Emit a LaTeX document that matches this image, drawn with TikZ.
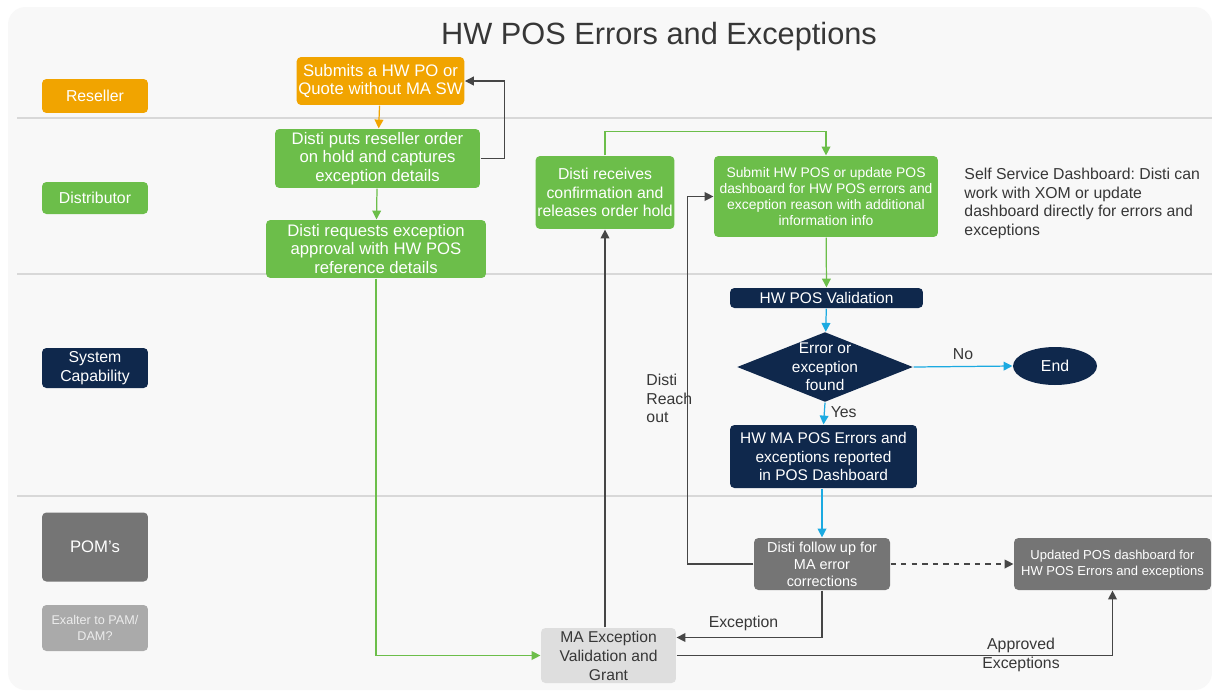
\documentclass[tikz,border=0pt]{standalone}
\usepackage{fontspec}
\setmainfont{Liberation Sans}
\usepackage{tikz}
\usetikzlibrary{shapes.geometric,arrows.meta}
\frenchspacing

\definecolor{resorange}{RGB}{241,164,0}
\definecolor{distgreen}{RGB}{108,190,74}
\definecolor{sysnavy}{RGB}{15,40,76}
\definecolor{pomgray}{RGB}{117,117,117}
\definecolor{exgray}{RGB}{170,170,170}
\definecolor{grantgray}{RGB}{222,222,222}
\definecolor{flowcyan}{RGB}{27,170,225}
\definecolor{darkline}{RGB}{70,70,70}
\definecolor{cardbg}{RGB}{248,248,248}
\definecolor{lanegray}{RGB}{216,216,216}
\definecolor{textgray}{RGB}{55,55,55}

\begin{document}
\begin{tikzpicture}[x=0.02cm,y=-0.02cm,line width=0.7pt,>={Triangle[length=5pt,width=5pt]}]
    \tikzstyle{box}=[rectangle,rounded corners=2.5pt,inner sep=1pt,align=center,text=white]
    \tikzstyle{lane}=[box,minimum width=2.12cm,font={\fontsize{9}{10.5}\selectfont}]
    \tikzstyle{reseller}=[box,fill=resorange,font={\fontsize{9.5}{10.5}\selectfont}]
    \tikzstyle{disti}=[box,fill=distgreen,font={\fontsize{9.5}{10.5}\selectfont}]
    \tikzstyle{system}=[box,fill=sysnavy,font={\fontsize{8.8}{10.5}\selectfont}]
    \tikzstyle{pom}=[box,fill=pomgray,font={\fontsize{8.2}{9.6}\selectfont}]
    \tikzstyle{annot}=[text=textgray,align=center,font={\fontsize{9}{10.5}\selectfont}]
    \tikzstyle{orangeflow}=[->,draw=resorange]
    \tikzstyle{greenflow}=[->,draw=distgreen]
    \tikzstyle{cyanflow}=[->,draw=flowcyan]
    \tikzstyle{darkflow}=[->,draw=darkline]

    \useasboundingbox (0,0) rectangle (1212,693);
    % Draw the card and the swim lanes
    \fill[white] (0,0) rectangle (1212,693);
    \fill[cardbg,rounded corners=10pt] (8,7) rectangle (1212,690);
    \foreach \y in {118,274,496}
        \draw[lanegray,line width=0.8pt] (17,\y) -- (1212,\y);

    \node[text=textgray,font={\fontsize{17.5}{20}\selectfont}] (title) at (659,37) {HW POS Errors and Exceptions};

    % Lane labels
    \node[lane,fill=resorange,minimum height=0.68cm] (L-res) at (95,96) {Reseller};
    \node[lane,fill=distgreen,minimum height=0.64cm] (L-dist) at (95,198) {Distributor};
    \node[lane,fill=sysnavy,minimum height=0.8cm] (L-sys) at (95,368) {System\\Capability};
    \node[lane,fill=pomgray,minimum height=1.38cm,font={\fontsize{9.5}{11}\selectfont}] (L-pom) at (95,547) {POM's};
    \node[lane,fill=exgray,minimum height=0.92cm,text={rgb,255:red,236;green,236;blue,236},font={\fontsize{7.2}{9}\selectfont}] (L-ex) at (95,628) {Exalter to PAM/\\DAM?};

    % Reseller and distributor steps
    \node[reseller,minimum width=3.3cm,minimum height=0.96cm] (R-1) at (380.5,81) {Submits a HW PO or\\Quote without MA SW};
    \node[disti,minimum width=4.1cm,minimum height=1.18cm] (D-1) at (377.5,158.5) {Disti puts reseller order\\on hold and captures\\exception details};
    \node[disti,minimum width=4.4cm,minimum height=1.16cm] (D-2) at (376,249) {Disti requests exception\\approval with HW POS\\reference details};
    \node[disti,minimum width=2.76cm,minimum height=1.46cm,font={\fontsize{9}{10.5}\selectfont}] (D-3) at (605,192.5) {Disti receives\\confirmation and\\releases order hold};
    \node[disti,minimum width=4.48cm,minimum height=1.62cm,font={\fontsize{7.9}{9}\selectfont}] (D-4) at (826,196.5) {Submit HW POS or update POS\\dashboard for HW POS errors and\\exception reason with additional\\information info};
    \node[annot,anchor=north west,align=left] (note) at (958,162) {Self Service Dashboard: Disti can\\work with XOM or update\\dashboard directly for errors and\\exceptions};

    % System steps
    \node[system,minimum width=3.86cm,minimum height=0.4cm] (S-1) at (826.5,298) {HW POS Validation};
    \node[diamond,fill=sysnavy,aspect=2.5,inner sep=0pt,minimum width=3.52cm,minimum height=1.4cm,
          label={[text=white,align=center,font={\fontsize{8.8}{10.5}\selectfont}]center:Error or\\exception\\found}] (S-2) at (825,367) {};
    \node[ellipse,fill=sysnavy,text=white,minimum width=1.68cm,minimum height=0.76cm,font={\fontsize{9}{10.5}\selectfont}] (S-end) at (1055,366) {End};
    \node[system,minimum width=3.74cm,minimum height=1.26cm] (S-3) at (823.5,456.5) {HW MA POS Errors and\\exceptions reported\\in POS Dashboard};

    % POM steps
    \node[pom,minimum width=2.72cm,minimum height=1.04cm] (P-1) at (822,564) {Disti follow up for\\MA error\\corrections};
    \node[pom,minimum width=3.94cm,minimum height=1.04cm,font={\fontsize{7.4}{9.2}\selectfont}] (P-2) at (1112.5,564) {Updated POS dashboard for\\HW POS Errors and exceptions};
    \node[box,fill=grantgray,text=textgray,minimum width=2.7cm,minimum height=1.1cm,font={\fontsize{8.9}{10.8}\selectfont}] (P-3) at (608.5,655.5) {MA Exception\\Validation and\\Grant};

    % Connectors
    \path (R-1) edge[orangeflow] (D-1);
    \path (D-1) edge[greenflow] (D-2);
    \draw[darkflow] (D-1.east) -- ++(24,0) |- (R-1.east);
    \draw[greenflow] (D-2.south) |- (P-3.west);
    \draw[greenflow] (D-3.north) -- ++(0,-24) -| (D-4.north);
    \draw[darkflow] (P-3.north -| D-3.south) -- (D-3.south);
    \draw[darkflow] (P-1.west) -- ++(-66,0) |- (D-4.west);
    \path (D-4) edge[greenflow] (S-1);
    \path (S-1) edge[cyanflow] (S-2);
    \draw[cyanflow] (S-2.east) -- node[annot,above] {No} (S-end.west);
    \draw[cyanflow] (S-2.south) -- node[annot,right,pos=0.45] {Yes} (S-3.north);
    \draw[cyanflow] (S-3.south -| P-1.north) -- (P-1.north);
    \draw[darkflow,dashed] (P-1.east) -- (P-2.west);
    \draw[darkflow] (P-1.south) |- node[annot,above,pos=0.77] {Exception} ([yshift=0.36cm]P-3.east);
    \draw[darkflow] (P-3.east) -| (P-2.south);
    % Annotate the connectors
    \node[annot,align=left,anchor=north west] (reach) at (640,368) {Disti\\Reach\\out};
    \node[annot] (approved) at (1021,655) {Approved\\Exceptions};
\end{tikzpicture}
\end{document}
